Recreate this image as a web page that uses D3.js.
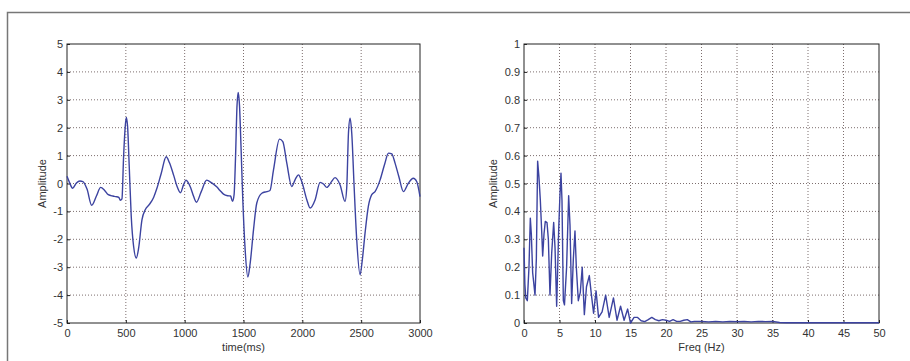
<!DOCTYPE html>
<html>
<head>
<meta charset="utf-8">
<script src="https://cdn.jsdelivr.net/npm/d3@7"></script>
<style>
  html, body { margin: 0; padding: 0; background: #fff; }
  svg { display: block; font-family: "Liberation Sans", Arial, sans-serif; }
  .tick text { fill: #333; font-size: 11px; }
</style>
</head>
<body>
<div id="chart"></div>
<script>
// ECG time signal (ms, amplitude)
const ecgTime = [
  0, 20, 48, 80, 110, 135, 170, 210, 250, 286,
  320, 351, 390, 416, 440, 453, 467, 481, 495, 504,
  515, 529, 546, 566, 589, 609, 637, 665, 700, 736,
  762, 800, 843, 870, 906, 935, 964, 990, 1011, 1030,
  1051, 1075, 1100, 1140, 1187, 1230, 1272, 1300, 1330, 1365,
  1390, 1407, 1420, 1432, 1445, 1455, 1466, 1477, 1494, 1514,
  1537, 1557, 1585, 1613, 1656, 1698, 1725, 1755, 1806, 1834,
  1868, 1910, 1940, 1967, 1995, 2038, 2066, 2109, 2151, 2180,
  2208, 2245, 2278, 2321, 2363, 2378, 2392, 2406, 2420, 2440,
  2462, 2491, 2510, 2533, 2561, 2590, 2618, 2661, 2700, 2732,
  2760, 2788, 2820, 2859, 2901, 2943, 2972, 3000
];
const ecgAmp = [
  0.26, 0.05, -0.17, 0.02, 0.09, 0.07, -0.2, -0.78, -0.45, -0.14,
  -0.25, -0.4, -0.45, -0.47, -0.5, -0.6, -0.55, 0.97, 2.04, 2.37,
  2.04, 0.6, -1.18, -2.25, -2.67, -2.31, -1.3, -0.94, -0.75, -0.5,
  -0.2, 0.35, 0.96, 0.75, 0.3, -0.1, -0.33, -0.05, 0.12, 0.03,
  -0.15, -0.45, -0.67, -0.3, 0.12, 0.02, -0.12, -0.25, -0.38, -0.44,
  -0.45, -0.64, -0.4, 0.9, 2.8, 3.26, 2.8, 1.56, -0.58, -2.37,
  -3.35, -2.85, -1.66, -0.7, -0.35, -0.29, -0.25, 0.49, 1.59, 1.5,
  0.73, -0.11, 0.15, 0.31, 0.07, -0.58, -0.88, -0.58, 0.04, -0.02,
  -0.14, 0.05, 0.21, -0.05, -0.64, -0.1, 1.8, 2.34, 1.8, -0.1,
  -2.0, -3.27, -2.73, -1.78, -0.82, -0.4, -0.29, 0.13, 0.7, 1.09,
  1.06, 0.73, 0.25, -0.29, 0.01, 0.19, 0.07, -0.47
];

// amplitude spectrum (Hz, amplitude)
const freqHz = [
  0, 0.12, 0.25, 0.47, 0.7, 0.89, 1.03, 1.22, 1.55, 1.74,
  1.92, 2.1, 2.3, 2.49, 2.63, 2.82, 3.0, 3.24, 3.43, 3.66,
  3.9, 4.18, 4.37, 4.6, 4.74, 4.88, 5.05, 5.21, 5.35, 5.54,
  5.7, 6.0, 6.29, 6.48, 6.71, 6.95, 7.18, 7.37, 7.65, 7.93,
  8.2, 8.5, 8.8, 9.2, 9.5, 9.8, 10.15, 10.5, 11.0, 11.5,
  12.0, 12.6, 13.1, 13.6, 14.1, 14.6, 15.0, 15.5, 16.0, 16.5,
  17.0, 17.5, 18.0, 18.5, 19.0, 19.5, 20.0, 20.5, 21.0, 21.5,
  22.0, 22.5, 23.0, 23.5, 24.0, 25, 26, 27, 28, 29,
  30, 31, 32, 33, 34, 35, 36, 37, 40, 50
];
const spectrumAmp = [
  0.27, 0.14, 0.09, 0.08, 0.2, 0.376, 0.32, 0.18, 0.1, 0.23,
  0.58, 0.525, 0.44, 0.33, 0.24, 0.32, 0.364, 0.36, 0.3, 0.1,
  0.25, 0.36, 0.27, 0.06, 0.19, 0.33, 0.45, 0.537, 0.44, 0.08,
  0.065, 0.2, 0.456, 0.35, 0.07, 0.23, 0.33, 0.2, 0.08, 0.11,
  0.2, 0.03, 0.13, 0.17, 0.1, 0.035, 0.115, 0.02, 0.04, 0.1,
  0.02, 0.09, 0.01, 0.06, 0.01, 0.05, 0.0, 0.02, 0.02, 0.008,
  0.005, 0.012, 0.02, 0.012, 0.008, 0.012, 0.01, 0.006, 0.012, 0.006,
  0.006, 0.01, 0.012, 0.004, 0.006, 0.006, 0.004, 0.006, 0.004, 0.006,
  0.005, 0.006, 0.004, 0.006, 0.005, 0.006, 0.002, 0.001, 0.001, 0.001
];

const timeTicks = [0, 500, 1000, 1500, 2000, 2500, 3000];
const ampTicks = [-5, -4, -3, -2, -1, 0, 1, 2, 3, 4, 5];
const freqTicks = [0, 5, 10, 15, 20, 25, 30, 35, 40, 45, 50];
const specTicks = [0, 0.1, 0.2, 0.3, 0.4, 0.5, 0.6, 0.7, 0.8, 0.9, 1];

const W = 910, H = 361;
const lineColor = '#3c43a0';
const gridColor = '#7d6e6e';

const svg = d3.select('#chart').append('svg')
  .attr('width', W)
  .attr('height', H);

// outer frame (top and left edges only are visible)
svg.append('path')
  .attr('d', `M7.5,${H} V12.5 H${W}`)
  .attr('fill', 'none')
  .attr('stroke', '#777')
  .attr('stroke-width', 1.5);

function drawPanel(opts) {
  const { left, right, top, bottom } = opts;
  const x = d3.scaleLinear().domain(opts.xDomain).range([left, right]);
  const y = d3.scaleLinear().domain(opts.yDomain).range([bottom, top]);
  const g = svg.append('g');

  // dotted grid
  g.append('g').selectAll('line.vx')
    .data(opts.xTicks.slice(1, -1))
    .enter().append('line')
    .attr('x1', d => x(d)).attr('x2', d => x(d))
    .attr('y1', top).attr('y2', bottom)
    .attr('stroke', gridColor)
    .attr('stroke-width', 1)
    .attr('stroke-dasharray', '1,2');
  g.append('g').selectAll('line.hy')
    .data(opts.yTicks.slice(1, -1))
    .enter().append('line')
    .attr('x1', left).attr('x2', right)
    .attr('y1', d => y(d)).attr('y2', d => y(d))
    .attr('stroke', gridColor)
    .attr('stroke-width', 1)
    .attr('stroke-dasharray', '1,2');

  // axes, ticks pointing inward like matlab
  const xAxis = g.append('g')
    .attr('transform', `translate(0,${bottom})`)
    .call(d3.axisBottom(x).tickValues(opts.xTicks).tickSizeInner(-3).tickSizeOuter(0).tickPadding(6)
      .tickFormat(d3.format('')));
  const yAxis = g.append('g')
    .attr('transform', `translate(${left},0)`)
    .call(d3.axisLeft(y).tickValues(opts.yTicks).tickSizeInner(-3).tickSizeOuter(0).tickPadding(4)
      .tickFormat(d => String(d)));
  [xAxis, yAxis].forEach(a => {
    a.select('.domain').remove();
    a.selectAll('.tick line').attr('stroke', '#222');
    a.selectAll('.tick text').style('font-size', '11px').attr('fill', '#333');
  });

  // box
  g.append('rect')
    .attr('x', left).attr('y', top)
    .attr('width', right - left).attr('height', bottom - top)
    .attr('fill', 'none')
    .attr('stroke', '#222')
    .attr('stroke-width', 1);

  // signal
  const pts = opts.xs.map((v, i) => [v, opts.ys[i]]);
  g.append('path')
    .datum(pts)
    .attr('fill', 'none')
    .attr('stroke', lineColor)
    .attr('stroke-width', 1.4)
    .attr('stroke-linejoin', 'round')
    .attr('d', d3.line().x(d => x(d[0])).y(d => y(d[1])).curve(opts.curve));

  // labels
  g.append('text')
    .attr('x', (left + right) / 2)
    .attr('y', 351)
    .attr('text-anchor', 'middle')
    .attr('fill', '#333')
    .style('font-size', '11px')
    .text(opts.xLabel);
  g.append('text')
    .attr('transform', `translate(${opts.yLabelX},${(top + bottom) / 2}) rotate(-90)`)
    .attr('text-anchor', 'middle')
    .attr('fill', '#333')
    .style('font-size', '11px')
    .text('Amplitude');
}

drawPanel({
  left: 67, right: 420, top: 44, bottom: 323,
  xDomain: [0, 3000], yDomain: [-5, 5],
  xTicks: timeTicks, yTicks: ampTicks,
  xs: ecgTime, ys: ecgAmp,
  curve: d3.curveMonotoneX,
  xLabel: 'time(ms)', yLabelX: 46
});

drawPanel({
  left: 524, right: 879, top: 44, bottom: 323,
  xDomain: [0, 50], yDomain: [0, 1],
  xTicks: freqTicks, yTicks: specTicks,
  xs: freqHz, ys: spectrumAmp,
  curve: d3.curveLinear,
  xLabel: 'Freq (Hz)', yLabelX: 497
});
</script>
</body>
</html>
